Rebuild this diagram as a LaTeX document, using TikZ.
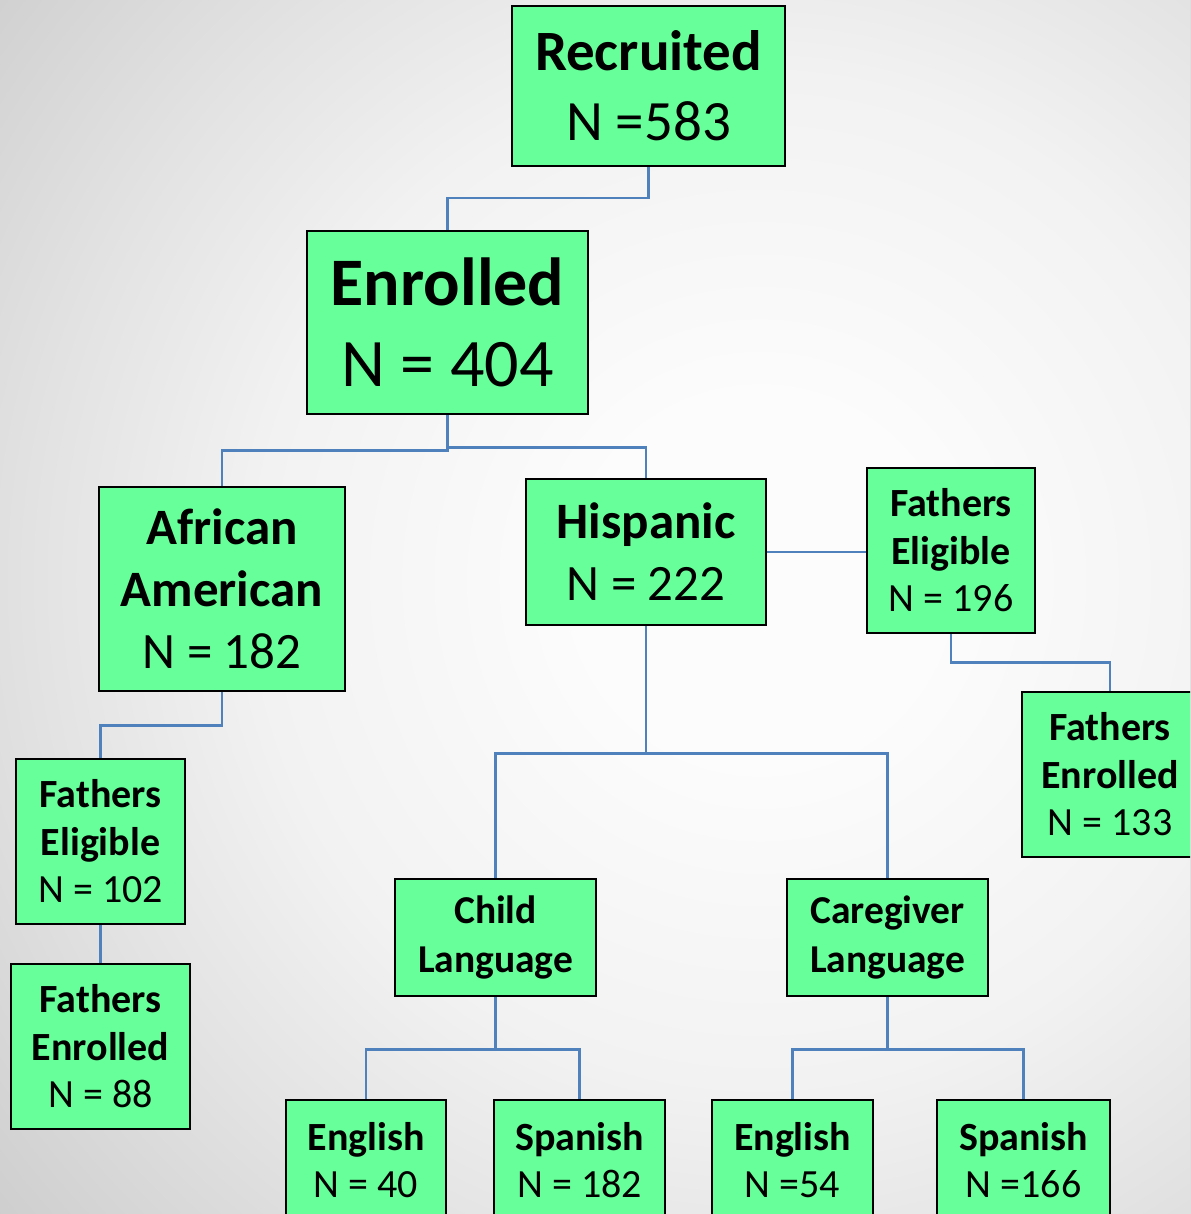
\documentclass[tikz,border=0pt]{standalone}
\usepackage{fontspec}
\setmainfont{Carlito}
\definecolor{boxgreen}{RGB}{102,255,153}
\definecolor{linkblue}{RGB}{79,129,189}
\definecolor{bgA}{RGB}{252,252,252}
\definecolor{bgB}{RGB}{242,242,242}
\definecolor{bgC}{RGB}{227,227,227}
\definecolor{bgD}{RGB}{205,205,205}
\pgfdeclareradialshading{bgshade}{\pgfpoint{0bp}{0bp}}{color(0bp)=(bgA); color(5bp)=(bgA); color(14bp)=(bgB); color(20bp)=(bgC); color(28bp)=(bgD); color(50bp)=(bgD)}
\tikzset{
  box/.style={draw=black, line width=2.5pt, fill=boxgreen, rectangle, inner sep=0pt, align=center, text=black},
  link/.style={draw=linkblue, line width=2.5pt},
  fbig/.style={font=\fontsize{68}{81}\selectfont},
  fmed/.style={font=\fontsize{57}{70}\selectfont},
  fmid/.style={font=\fontsize{51}{62}\selectfont},
  fsml/.style={font=\fontsize{40}{47.5}\selectfont},
  fsmm/.style={font=\fontsize{39.5}{49}\selectfont},
}
\begin{document}
\begin{tikzpicture}[x=1pt,y=-1pt]
\useasboundingbox (0,0) rectangle (1190,1214);
\clip (0,0) rectangle (1190,1214);
\fill[shading=bgshade] (-140,-320) rectangle (1660,1480);

% nodes
\node[box,fmed,minimum width=273,minimum height=160] (rec) at (648.5,86) {\textbf{Recruited}\\N =583};
\node[box,fbig,minimum width=281,minimum height=183] (enr) at (447.5,322.5) {\textbf{Enrolled}\\N = 404};
\node[box,fmid,minimum width=246,minimum height=204] (aa) at (222,589) {\textbf{African}\\\textbf{American}\\N = 182};
\node[box,fmid,minimum width=240,minimum height=146] (his) at (646,552) {\textbf{Hispanic}\\N = 222};
\node[box,fsml,minimum width=168,minimum height=165] (fer) at (951,550.5) {\textbf{Fathers}\\\textbf{Eligible}\\N = 196};
\node[box,fsml,minimum width=176,minimum height=165] (fnr) at (1110,774.5) {\textbf{Fathers}\\\textbf{Enrolled}\\N = 133};
\node[box,fsml,minimum width=169,minimum height=165] (fel) at (100.5,841.5) {\textbf{Fathers}\\\textbf{Eligible}\\N = 102};
\node[box,fsml,minimum width=179,minimum height=165] (fnl) at (100.5,1046.5) {\textbf{Fathers}\\\textbf{Enrolled}\\N = 88};
\node[box,fsmm,minimum width=201,minimum height=117] (cl) at (495.5,937.5) {\textbf{Child}\\\textbf{Language}};
\node[box,fsmm,minimum width=201,minimum height=117] (cgl) at (887.5,937.5) {\textbf{Caregiver}\\\textbf{Language}};
\node[box,fsml,minimum width=160,minimum height=120] (en1) at (366,1160) {\textbf{English}\\N = 40};
\node[box,fsml,minimum width=171,minimum height=120] (sp1) at (579.5,1160) {\textbf{Spanish}\\N = 182};
\node[box,fsml,minimum width=161,minimum height=120] (en2) at (792.5,1160) {\textbf{English}\\N =54};
\node[box,fsml,minimum width=173,minimum height=120] (sp2) at (1023.5,1160) {\textbf{Spanish}\\N =166};

% connectors
\draw[link] (rec.south) -- ++(0,31) -| (enr.north);
\draw[link] (enr.south) -- ++(0,35) -| (aa.north);
\draw[link] (enr.south) -- ++(0,32) -| (his.north);
\draw[link] (his.east) -- (his.east -| fer.west);
\draw[link] (fer.south) -- ++(0,28) -| (fnr.north);
\draw[link] (his.south) -- ++(0,127) -| (cl.north);
\draw[link] (his.south) -- ++(0,127) -| (cgl.north);
\draw[link] (aa.south) -- ++(0,33) -| (fel.north);
\draw[link] (fel.south) -- (fnl.north);
\draw[link] (cl.south) -- ++(0,52) -| (en1.north);
\draw[link] (cl.south) -- ++(0,52) -| (sp1.north);
\draw[link] (cgl.south) -- ++(0,52) -| (en2.north);
\draw[link] (cgl.south) -- ++(0,52) -| (sp2.north);
\end{tikzpicture}
\end{document}
